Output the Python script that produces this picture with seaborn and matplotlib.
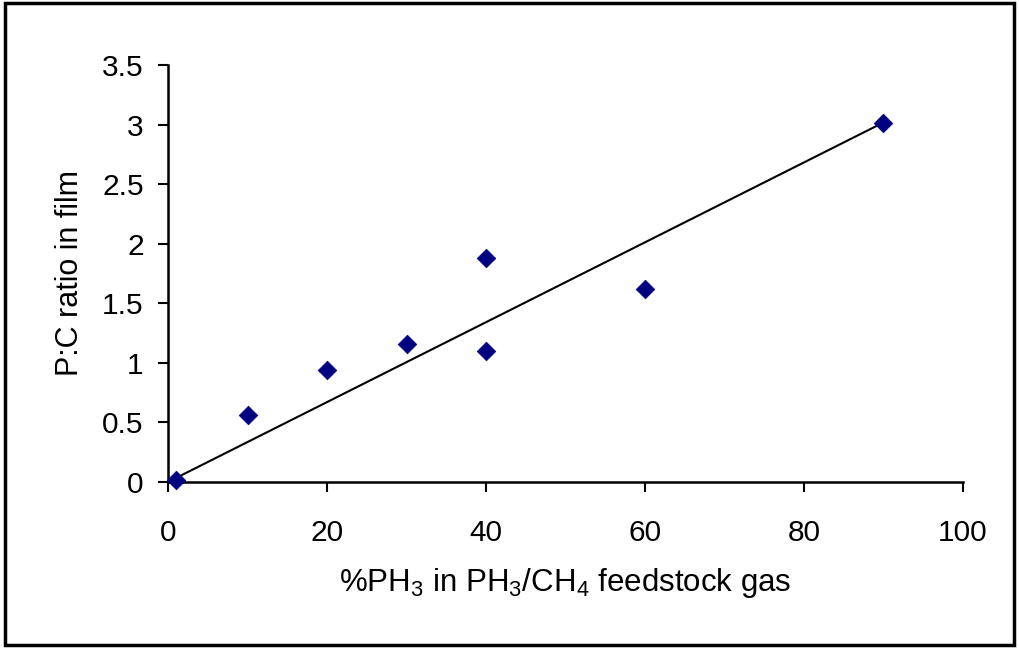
import numpy as np
import pandas as pd
import matplotlib
matplotlib.use("Agg")
import matplotlib.pyplot as plt
import seaborn as sns
from matplotlib.patches import Rectangle

pct_ph3 = [1, 10, 20, 30, 40, 40, 60, 90]
pc_ratio = [0.02, 0.56, 0.94, 1.16, 1.88, 1.10, 1.62, 3.01]
x_ticks = [0, 20, 40, 60, 80, 100]
y_ticks = [0, 0.5, 1, 1.5, 2, 2.5, 3, 3.5]
y_tick_labels = ["0", "0.5", "1", "1.5", "2", "2.5", "3", "3.5"]

sns.set_style("white")
plt.rcParams["font.family"] = ["Liberation Sans", "DejaVu Sans"]
plt.rcParams["mathtext.fontset"] = "custom"
plt.rcParams["mathtext.rm"] = "Liberation Sans"
plt.rcParams["mathtext.it"] = "Liberation Sans"
plt.rcParams["text.color"] = "black"
plt.rcParams["axes.labelcolor"] = "black"
plt.rcParams["xtick.color"] = "black"
plt.rcParams["ytick.color"] = "black"

df = pd.DataFrame({"x": pct_ph3, "y": pc_ratio})

# linear trend through origin
xa = np.array(pct_ph3, dtype=float)
ya = np.array(pc_ratio, dtype=float)
slope = (xa * ya).sum() / (xa * xa).sum()
trend = pd.DataFrame({"x": [xa.min(), xa.max()]})
trend["y"] = slope * trend["x"]

fig = plt.figure(figsize=(10.19, 6.48), dpi=100)
ax = fig.add_axes([0.1649, 0.2562, 0.945 - 0.1649, 0.8997 - 0.2562])

sns.lineplot(data=trend, x="x", y="y", ax=ax, color="black", linewidth=1.5, zorder=2)
sns.scatterplot(data=df, x="x", y="y", ax=ax, marker="D", s=90, color="#000080",
                edgecolor="#000080", linewidth=0.5, zorder=3, clip_on=False)

ax.set_xlim(0, 100)
ax.set_ylim(0, 3.5)
ax.set_xticks(x_ticks)
ax.set_xticklabels([str(t) for t in x_ticks])
ax.set_yticks(y_ticks)
ax.set_yticklabels(y_tick_labels)
for s in ["top", "right"]:
    ax.spines[s].set_visible(False)
for s in ["left", "bottom"]:
    ax.spines[s].set_color("black")
    ax.spines[s].set_linewidth(1.8)
ax.tick_params(axis="both", direction="out", length=7.5, width=1.5, color="black",
               labelcolor="black", labelsize=21.5, bottom=True, left=True)
ax.tick_params(axis="x", pad=19)
ax.tick_params(axis="y", pad=10)

ax.set_xlabel(r"%PH$_\mathregular{3}$ in PH$_\mathregular{3}$/CH$_\mathregular{4}$ feedstock gas",
              fontsize=22.5, labelpad=14, color="black")
ax.set_ylabel("P:C ratio in film", fontsize=22, labelpad=12, color="black")

fig.patches.append(Rectangle((0.005, 0.005), 0.99, 0.99, transform=fig.transFigure,
                             fill=False, edgecolor="black", linewidth=2.5))

fig.savefig("out.png", dpi=100)
